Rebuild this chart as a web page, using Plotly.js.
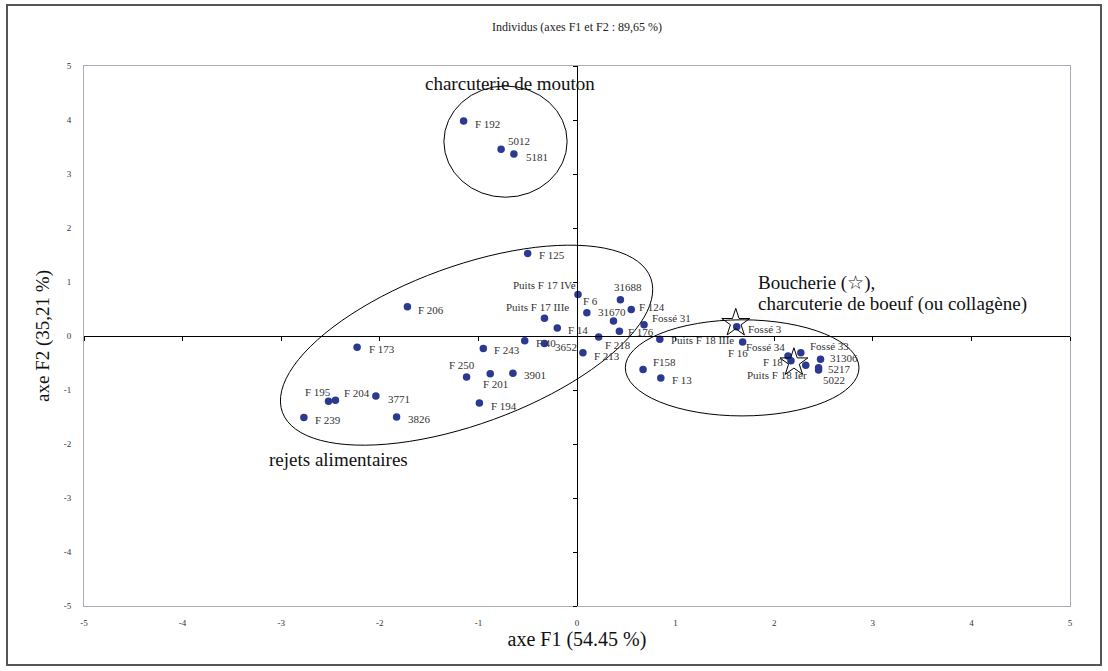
<!DOCTYPE html>
<html><head><meta charset="utf-8">
<script src="https://cdn.plot.ly/plotly-3.0.1.min.js"></script>
<style>html,body{margin:0;padding:0;background:#fff}#chart{width:1108px;height:671px}</style>
</head><body><div id="chart"></div><script>
// ---- data (coordinates of the individuals on F1 / F2) ----
const pointNames = ["F 192","5012","5181","F 125","Puits F 17 IVe","F 206","Puits F 17 IIIe","F 14",
  "F 173","F 243","F 40","3652","F 250","F 201","3901","F 213","F 218","F 176","31670","F 6","31688",
  "F 124","Fossé 31","Puits F 18 IIIe","Fossé 3","F 16","F158","F 13","Fossé 34","F 18","Fossé 33",
  "Puits F 18 Ier","31306","5217","5022","F 195","F 204","3771","F 239","3826","F 194"];
const f1 = [-1.15,-0.77,-0.64,-0.50,0.01,-1.72,-0.33,-0.20,
  -2.23,-0.95,-0.53,-0.33,-1.12,-0.88,-0.65,0.06,0.22,0.43,0.37,0.10,0.44,
  0.55,0.68,0.84,1.62,1.68,0.67,0.85,2.14,2.17,2.27,
  2.32,2.47,2.45,2.45,-2.52,-2.45,-2.04,-2.77,-1.83,-0.99];
const f2 = [3.98,3.46,3.37,1.53,0.77,0.54,0.33,0.15,
  -0.21,-0.23,-0.09,-0.14,-0.76,-0.70,-0.69,-0.31,-0.02,0.09,0.28,0.43,0.67,
  0.49,0.21,-0.06,0.17,-0.11,-0.62,-0.78,-0.37,-0.46,-0.31,
  -0.54,-0.43,-0.59,-0.63,-1.21,-1.19,-1.11,-1.51,-1.50,-1.24];
const starF1 = [1.61, 2.20];
const starF2 = [0.24, -0.49];
const axisTicks = [-5,-4,-3,-2,-1,0,1,2,3,4,5];
const titleText = "Individus (axes F1 et F2 : 89,65 %)";
const xTitle = "axe F1 (54.45 %)";
const yTitle = "axe F2 (35,21 %)";
const groupTexts = ["charcuterie de mouton","rejets alimentaires","Boucherie (☆),","charcuterie de boeuf (ou collagène)"];

// ---- label placement (anchor, x shift px, y shift px) ----
const labelPlacement = [
  ["left",9,-3],["left",5,8],["left",10,-3],["left",9,-2],["right",0,9],["left",9,-3],["center",-7,11],["left",9,-2],
  ["left",10,-2],["left",9,-2],["left",9,-2],["left",9,-3],["center",-5,12],["center",5,-10],["left",9,-2],["left",9,-3],
  ["left",4,-8],["left",7,-1],["center",-1,9],["center",4,12],["center",8,13],
  ["left",6,3],["left",6,7],["left",9,-1],["left",9,-2],["center",-5,-11],["left",8,7],["left",9,-2],
  ["right",-1,9],["right",-6,-1],["left",7,7],
  ["right",3,-10],["left",7,1],["left",7,-1],["left",2,-10],["center",-11,9],["left",7,7],["left",10,-3],["left",9,-2],["left",9,-2],["left",10,-3]
];

const serif = "Liberation Serif, Times New Roman, serif";
const M = {l:84, r:38, t:66, b:65};
const W = 1108, H = 671;
const pxX = (W - M.l - M.r) / 10, pxY = (H - M.t - M.b) / 10;

// rotated ellipse path (semi-axes and centre given in pixel terms of the plot)
function ellipsePath(cx, cy, aPx, bPx, angDeg) {
  const th = angDeg * Math.PI / 180;
  let d = "";
  for (let i = 0; i <= 96; i++) {
    const t = 2 * Math.PI * i / 96;
    const ex = aPx * Math.cos(t), ey = bPx * Math.sin(t);
    const rx = ex * Math.cos(th) - ey * Math.sin(th);
    const ry = ex * Math.sin(th) + ey * Math.cos(th);
    const x = cx + rx / pxX, y = cy + ry / pxY;
    d += (i === 0 ? "M" : "L") + x.toFixed(4) + "," + y.toFixed(4);
  }
  return d + "Z";
}

const annotations = pointNames.map((n, i) => ({
  x: f1[i], y: f2[i], xref: "x", yref: "y", text: n, showarrow: false,
  xanchor: labelPlacement[i][0], yanchor: "middle",
  xshift: labelPlacement[i][1], yshift: labelPlacement[i][2],
  font: {family: serif, size: 11, color: "#333333"}
}));
const bigFont = {family: serif, size: 19, color: "#111111"};
annotations.push({x: -0.68, y: 4.67, xref:"x", yref:"y", text: groupTexts[0], showarrow:false, xanchor:"center", yanchor:"middle", font: bigFont});
annotations.push({x: -3.14, y: -2.28, xref:"x", yref:"y", text: groupTexts[1], showarrow:false, xanchor:"left", yanchor:"middle", font: bigFont});
annotations.push({x: 1.82, y: 0.98, xref:"x", yref:"y", text: groupTexts[2], showarrow:false, xanchor:"left", yanchor:"middle", font: bigFont});
annotations.push({x: 1.82, y: 0.59, xref:"x", yref:"y", text: groupTexts[3], showarrow:false, xanchor:"left", yanchor:"middle", font: bigFont});

const shapes = [
  {type:"circle", xref:"x", yref:"y", x0:-1.35, x1:-0.10, y0:2.57, y1:4.63, line:{color:"#000", width:1}},
  {type:"path", xref:"x", yref:"y", path: ellipsePath(-1.12, -0.17, 196, 79, 20), line:{color:"#000", width:1}},
  {type:"circle", xref:"x", yref:"y", x0:0.49, x1:2.86, y0:-1.48, y1:0.30, line:{color:"#000", width:1}},
  {type:"rect", xref:"paper", yref:"paper", x0:(7-M.l)/(W-M.l-M.r), x1:(1101-M.l)/(W-M.l-M.r),
    y0:(H-M.b-665)/(H-M.t-M.b), y1:(H-M.b-5)/(H-M.t-M.b), line:{color:"#555555", width:2}}
];

const traces = [
  {type:"scatter", mode:"markers", x:f1, y:f2, text:pointNames, hoverinfo:"text",
   marker:{color:"#2B3990", size:7.5}, showlegend:false, cliponaxis:false},
  {type:"scatter", mode:"markers", x:starF1, y:starF2, hoverinfo:"skip",
   marker:{symbol:"star-open", size:21, color:"#000", line:{width:1, color:"#000"}}, showlegend:false, cliponaxis:false},
  {type:"scatter", mode:"markers", x:[], y:[], xaxis:"x2", yaxis:"y2", hoverinfo:"skip", showlegend:false}
];

const layout = {
  width: W, height: H, margin: M,
  paper_bgcolor:"#fff", plot_bgcolor:"#fff",
  font:{family: serif, color:"#222"},
  title:{text: titleText, x:0.5, xref:"paper", y: 1 - 27/H, yref:"container", yanchor:"middle", font:{family: serif, size:12, color:"#222"}},
  xaxis:{range:[-5,5], tickmode:"array", tickvals:axisTicks, ticktext:axisTicks.map(String), ticks:"", showgrid:false, zeroline:false,
    showline:true, mirror:true, linecolor:"#A8ADB5", linewidth:1, tickfont:{family:serif, size:9, color:"#333"},
    ticklabelstandoff:8, title:{text:xTitle, font:{family:serif, size:20, color:"#111"}, standoff:3}, fixedrange:true},
  yaxis:{range:[-5,5], tickmode:"array", tickvals:axisTicks, ticktext:axisTicks.map(String), ticks:"", showgrid:false, zeroline:false,
    showline:true, mirror:true, linecolor:"#A8ADB5", linewidth:1, tickfont:{family:serif, size:9, color:"#333"},
    ticklabelstandoff:10, title:{text:yTitle, font:{family:serif, size:19, color:"#111"}, standoff:9}, fixedrange:true},
  xaxis2:{overlaying:"x", anchor:"free", position:0.5, range:[-5,5], tickmode:"array", tickvals:axisTicks, ticks:"outside", ticklen:4,
    tickcolor:"#000", showline:true, linecolor:"#000", linewidth:1, showticklabels:false, showgrid:false, zeroline:false, side:"bottom", fixedrange:true},
  yaxis2:{overlaying:"y", anchor:"free", position:0.5, range:[-5,5], tickmode:"array", tickvals:axisTicks, ticks:"outside", ticklen:4,
    tickcolor:"#000", showline:true, linecolor:"#000", linewidth:1, showticklabels:false, showgrid:false, zeroline:false, side:"left", fixedrange:true},
  shapes: shapes,
  annotations: annotations
};

Plotly.newPlot("chart", traces, layout, {displayModeBar:false, staticPlot:true});
</script></body></html>
